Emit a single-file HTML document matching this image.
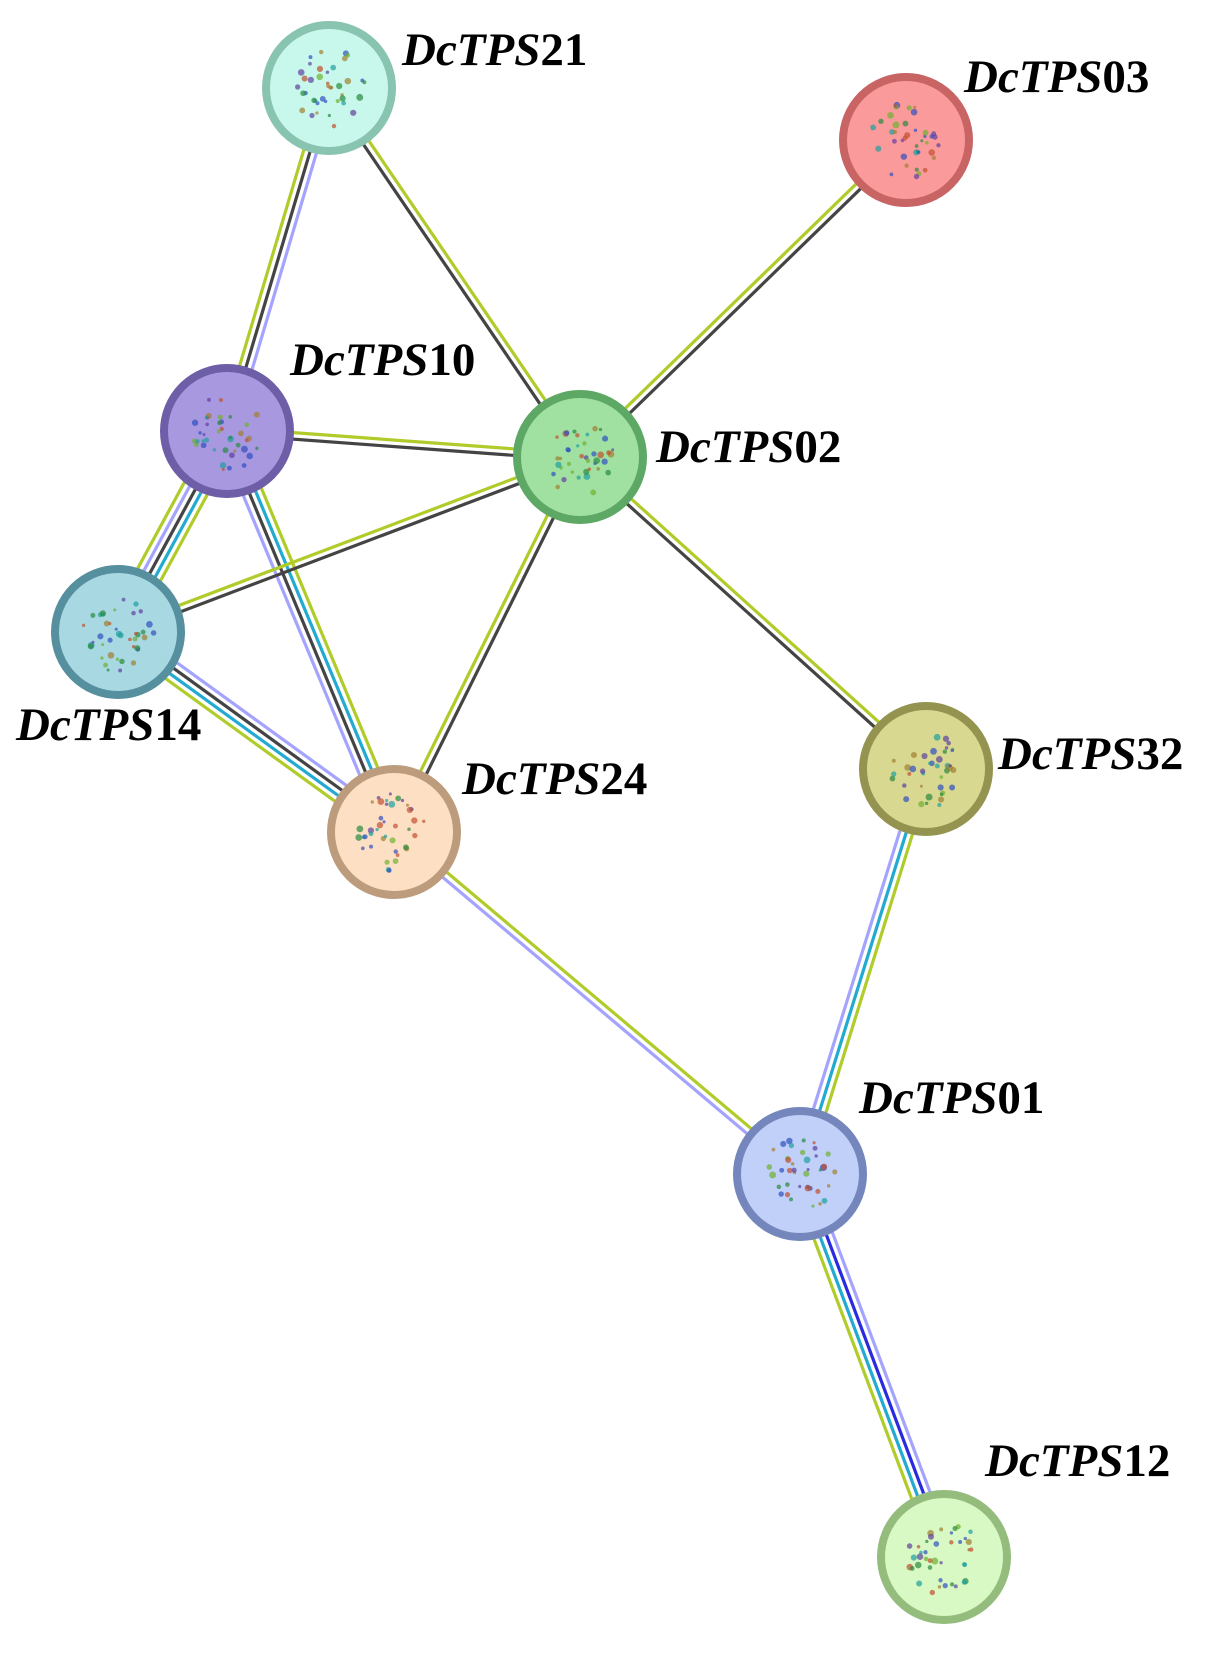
<!DOCTYPE html>
<html><head><meta charset="utf-8"><style>
html,body{margin:0;padding:0;background:#fff;}
svg{display:block}
.l{font-family:"Liberation Serif",serif;font-weight:bold;font-size:47px;fill:#000}
</style></head><body>
<svg id="s" width="1218" height="1654" viewBox="0 0 1218 1654" xmlns="http://www.w3.org/2000/svg">
<g id="edges"></g>
<g id="nodes"></g>
<text class="l" x="402" y="65"><tspan font-style="italic">DcTPS</tspan>21</text>
<text class="l" x="964" y="92"><tspan font-style="italic">DcTPS</tspan>03</text>
<text class="l" x="290" y="375"><tspan font-style="italic">DcTPS</tspan>10</text>
<text class="l" x="656" y="462"><tspan font-style="italic">DcTPS</tspan>02</text>
<text class="l" x="16" y="740"><tspan font-style="italic">DcTPS</tspan>14</text>
<text class="l" x="462" y="794"><tspan font-style="italic">DcTPS</tspan>24</text>
<text class="l" x="998" y="769"><tspan font-style="italic">DcTPS</tspan>32</text>
<text class="l" x="859" y="1113"><tspan font-style="italic">DcTPS</tspan>01</text>
<text class="l" x="985" y="1476"><tspan font-style="italic">DcTPS</tspan>12</text>
</svg>
<script>
var N={
 "21":[329,88,"#c8f8ec","#88c4b0"],
 "03":[906,140,"#fb9a9a","#c86464"],
 "10":[227,431,"#a898e0","#6e5ea8"],
 "02":[580,457,"#a0e0a0","#5ea866"],
 "14":[118,632,"#a8d8e2","#56909e"],
 "24":[394,832,"#fde0c4","#bc9c7c"],
 "32":[926,769,"#d8d890","#949450"],
 "01":[800,1174,"#c0d0f8","#7486bc"],
 "12":[944,1557,"#d8f8c4","#94bc7c"]};
var G="#b0cc2a",K="#444",L="#a4a4ff",C="#22aad0",B="#2a2ae0";
var E=[
 ["21","10",[G,K,L]],["21","02",[K,G]],["03","02",[G,K]],["10","02",[K,G]],
 ["10","14",[G,L,K,C,G]],["10","24",[L,K,C,G]],["02","14",[G,K]],["02","24",[G,K]],
 ["02","32",[K,G]],["14","24",[G,C,K,L]],["24","01",[L,G]],["32","01",[L,C,G]],
 ["01","12",[G,C,B,L]]];
var ns="http://www.w3.org/2000/svg",eg=document.getElementById("edges"),ng=document.getElementById("nodes");
E.forEach(function(e){
 var a=N[e[0]],b=N[e[1]],dx=b[0]-a[0],dy=b[1]-a[1],d=Math.hypot(dx,dy),px=dy/d,py=-dx/d,n=e[2].length;
 e[2].forEach(function(c,i){var o=(i-(n-1)/2)*6.5;
  var l=document.createElementNS(ns,"line");
  l.setAttribute("x1",a[0]+px*o);l.setAttribute("y1",a[1]+py*o);
  l.setAttribute("x2",b[0]+px*o);l.setAttribute("y2",b[1]+py*o);
  l.setAttribute("stroke",c);l.setAttribute("stroke-width",3.2);eg.appendChild(l);});
});
var pal=["#2a8a40","#3050c0","#c05030","#70b030","#a08030","#6040a0","#20a0a0"];
var seed=7;function r(){seed=(seed*9301+49297)%233280;return seed/233280;}
for(var k in N){var v=N[k];
 var c=document.createElementNS(ns,"circle");
 c.setAttribute("cx",v[0]);c.setAttribute("cy",v[1]);c.setAttribute("r",63);
 c.setAttribute("fill",v[2]);c.setAttribute("stroke",v[3]);c.setAttribute("stroke-width",8);ng.appendChild(c);
 for(var j=0;j<40;j++){var t=r()*6.28,rr=Math.sqrt(r())*36;
  var d=document.createElementNS(ns,"circle");
  d.setAttribute("cx",v[0]+Math.cos(t)*rr);d.setAttribute("cy",v[1]+Math.sin(t)*rr*1.1);
  d.setAttribute("r",1.5+r()*2);d.setAttribute("fill",pal[Math.floor(r()*pal.length)]);d.setAttribute("opacity",0.7);ng.appendChild(d);}
}
</script>
</body></html>
